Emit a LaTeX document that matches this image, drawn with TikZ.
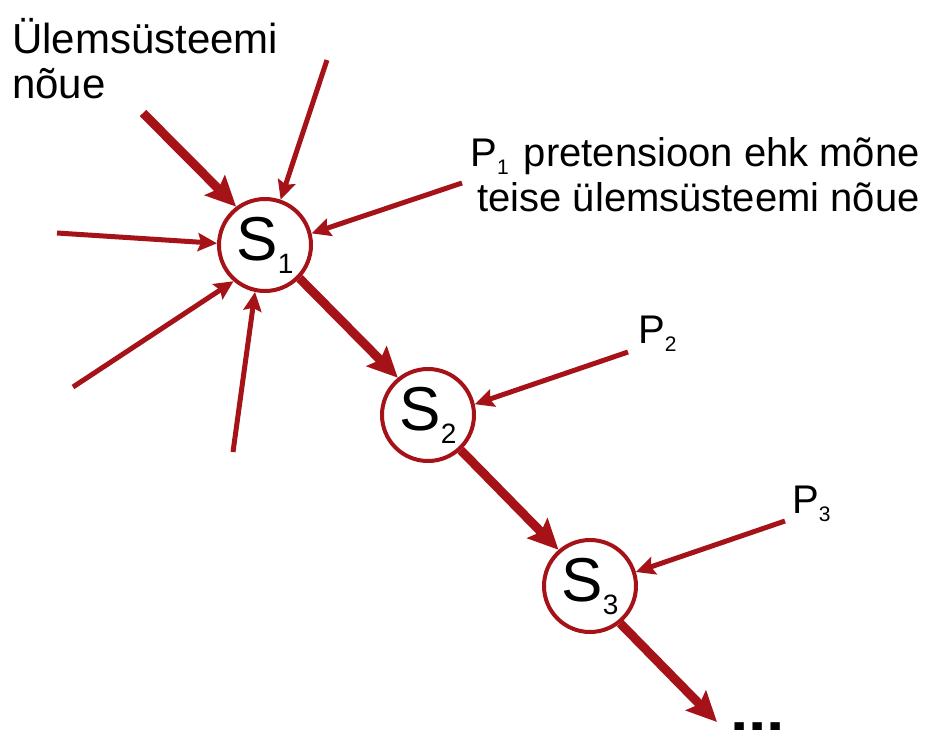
\documentclass[tikz,border=0pt]{standalone}
\usepackage{fontspec}
\setmainfont{Liberation Sans}
\usetikzlibrary{arrows.meta}

\definecolor{darkred}{RGB}{165,18,24}

\tikzset{
  system/.style={circle,draw=darkred,line width=4pt,fill=white,minimum size=92pt,inner sep=0pt,
    font=\fontsize{62}{64}\selectfont},
  demand/.style={darkred,line width=5pt,-{Stealth[length=19pt,width=18pt,inset=3pt]}},
  flow/.style={darkred,line width=9pt,-{Stealth[length=30pt,width=28pt,inset=5pt]}},
  txt/.style={inner sep=0pt,font=\fontsize{40}{45}\selectfont}
}
\newcommand{\sysname}[1]{S\raisebox{-13pt}{\fontsize{28}{28}\selectfont #1}}
\newcommand{\pname}[1]{P\raisebox{-8pt}{\fontsize{21}{21}\selectfont #1}}

\begin{document}
\begin{tikzpicture}[x=1pt,y=-1pt]
  \useasboundingbox (0,0) rectangle (937,729);

  \node[system] (s1) at (265,245) {\sysname{1}};
  \node[system] (s2) at (428,415) {\sysname{2}};
  \node[system] (s3) at (590,586) {\sysname{3}};

  % base is the last line of a multi-line node
  \node[txt,font=\fontsize{42}{45}\selectfont,align=left,anchor=base west] (top) at (12,98) {Ülemsüsteemi\\nõue};
  \node[txt,align=right,anchor=base east] (p1) at (920,211) {\pname{1}\hspace{4pt} pretensioon ehk mõne\\teise ülemsüsteemi nõue};
  \node[txt,anchor=base west] (p2) at (638,343) {\pname{2}};
  \node[txt,anchor=base west] (p3) at (792,513) {\pname{3}};
  \node[txt,font=\fontsize{66}{66}\selectfont\bfseries,anchor=base west] (more) at (730,732) {...};

  % loose ends of the incoming arrows
  \coordinate (q1) at (143,113);
  \coordinate (q2) at (327,60);
  \coordinate (q3) at (57,233);
  \coordinate (q4) at (73,387);
  \coordinate (q5) at (233,452);
  \coordinate (q6) at (462,183);
  \coordinate (q7) at (628,352);
  \coordinate (q8) at (785,521);
  \coordinate (out) at (717,722);

  \draw[flow] (q1) -- (s1.127);
  \foreach \from/\ang in {q2/71, q3/178, q4/229, q5/258, q6/14}
    \draw[demand] (\from) -- (s1.\ang);
  \draw[demand] (q7) -- (s2.13);
  \draw[demand] (q8) -- (s3.17);

  \draw[flow] (s1.316) -- (s2.129);
  \draw[flow] (s2.313) -- (s3.131);
  \draw[flow] (s3.309) -- (out);
\end{tikzpicture}
\end{document}
